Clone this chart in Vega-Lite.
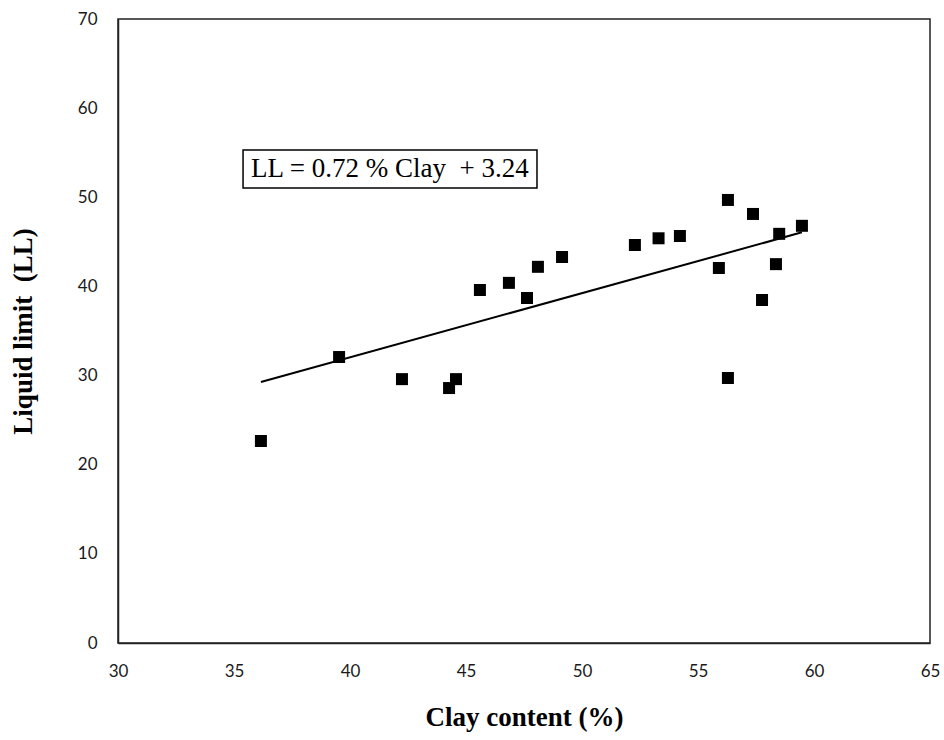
{
  "$schema": "https://vega.github.io/schema/vega-lite/v6.json",
  "width": 812,
  "height": 624,
  "autosize": {"type": "none"},
  "padding": {"left": 118, "top": 19, "right": 14, "bottom": 97},
  "background": "white",
  "config": {
    "view": {"stroke": "#222222", "strokeWidth": 1.5},
    "axis": {
      "grid": false,
      "ticks": false,
      "labelFlush": false,
      "domainColor": "#222222",
      "domainWidth": 1.5,
      "labelFont": "Lato",
      "labelFontSize": 17,
      "labelColor": "#1a1a1a",
      "titleFont": "Liberation Serif",
      "titleFontSize": 27,
      "titleFontWeight": "bold",
      "titleColor": "#000000"
    }
  },
  "datasets": {
    "samples": [
      {"clay": 36.16, "ll": 22.66},
      {"clay": 39.53, "ll": 32.08},
      {"clay": 42.24, "ll": 29.6},
      {"clay": 44.27, "ll": 28.6},
      {"clay": 44.57, "ll": 29.6},
      {"clay": 45.6, "ll": 39.6},
      {"clay": 46.85, "ll": 40.4},
      {"clay": 47.63, "ll": 38.7},
      {"clay": 48.1, "ll": 42.2},
      {"clay": 49.14, "ll": 43.3},
      {"clay": 52.28, "ll": 44.65},
      {"clay": 53.3, "ll": 45.4},
      {"clay": 54.22, "ll": 45.66},
      {"clay": 55.9, "ll": 42.07},
      {"clay": 56.29, "ll": 49.7},
      {"clay": 56.29, "ll": 29.73},
      {"clay": 57.37, "ll": 48.13},
      {"clay": 57.76, "ll": 38.48},
      {"clay": 58.36, "ll": 42.5},
      {"clay": 58.5, "ll": 45.9},
      {"clay": 59.48, "ll": 46.8}
    ],
    "fit": [
      {"clay": 36.16, "ll": 29.28},
      {"clay": 59.48, "ll": 46.07}
    ],
    "equation": [
      {"x1": 35.39, "x2": 48.06, "y1": 51.04, "y2": 55.3, "xc": 41.72, "yc": 53.17, "label": "LL = 0.72 % Clay \u00a0+ 3.24"}
    ]
  },
  "layer": [
    {
      "data": {"name": "fit"},
      "mark": {"type": "line", "color": "#000000", "strokeWidth": 2},
      "encoding": {
        "x": {
          "field": "clay", "type": "quantitative",
          "scale": {"domain": [30, 65], "nice": false, "zero": false},
          "axis": {"values": [30, 35, 40, 45, 50, 55, 60, 65], "title": "Clay content (%)", "labelPadding": 20, "titlePadding": 25}
        },
        "y": {
          "field": "ll", "type": "quantitative",
          "scale": {"domain": [0, 70], "nice": false},
          "axis": {"values": [0, 10, 20, 30, 40, 50, 60, 70], "title": "Liquid limit\u00a0 (LL)", "labelPadding": 21, "titlePadding": 40}
        }
      }
    },
    {
      "data": {"name": "samples"},
      "mark": {"type": "point", "shape": "square", "filled": true, "size": 144, "color": "#000000", "opacity": 1},
      "encoding": {
        "x": {"field": "clay", "type": "quantitative"},
        "y": {"field": "ll", "type": "quantitative"}
      }
    },
    {
      "data": {"name": "equation"},
      "mark": {"type": "rect", "fill": "white", "stroke": "#000000", "strokeWidth": 1.5},
      "encoding": {
        "x": {"field": "x1", "type": "quantitative"},
        "x2": {"field": "x2"},
        "y": {"field": "y1", "type": "quantitative"},
        "y2": {"field": "y2"}
      }
    },
    {
      "data": {"name": "equation"},
      "mark": {"type": "text", "font": "Liberation Serif", "fontSize": 27, "color": "#000000", "align": "center", "baseline": "middle"},
      "encoding": {
        "x": {"field": "xc", "type": "quantitative"},
        "y": {"field": "yc", "type": "quantitative"},
        "text": {"field": "label"}
      }
    }
  ]
}
